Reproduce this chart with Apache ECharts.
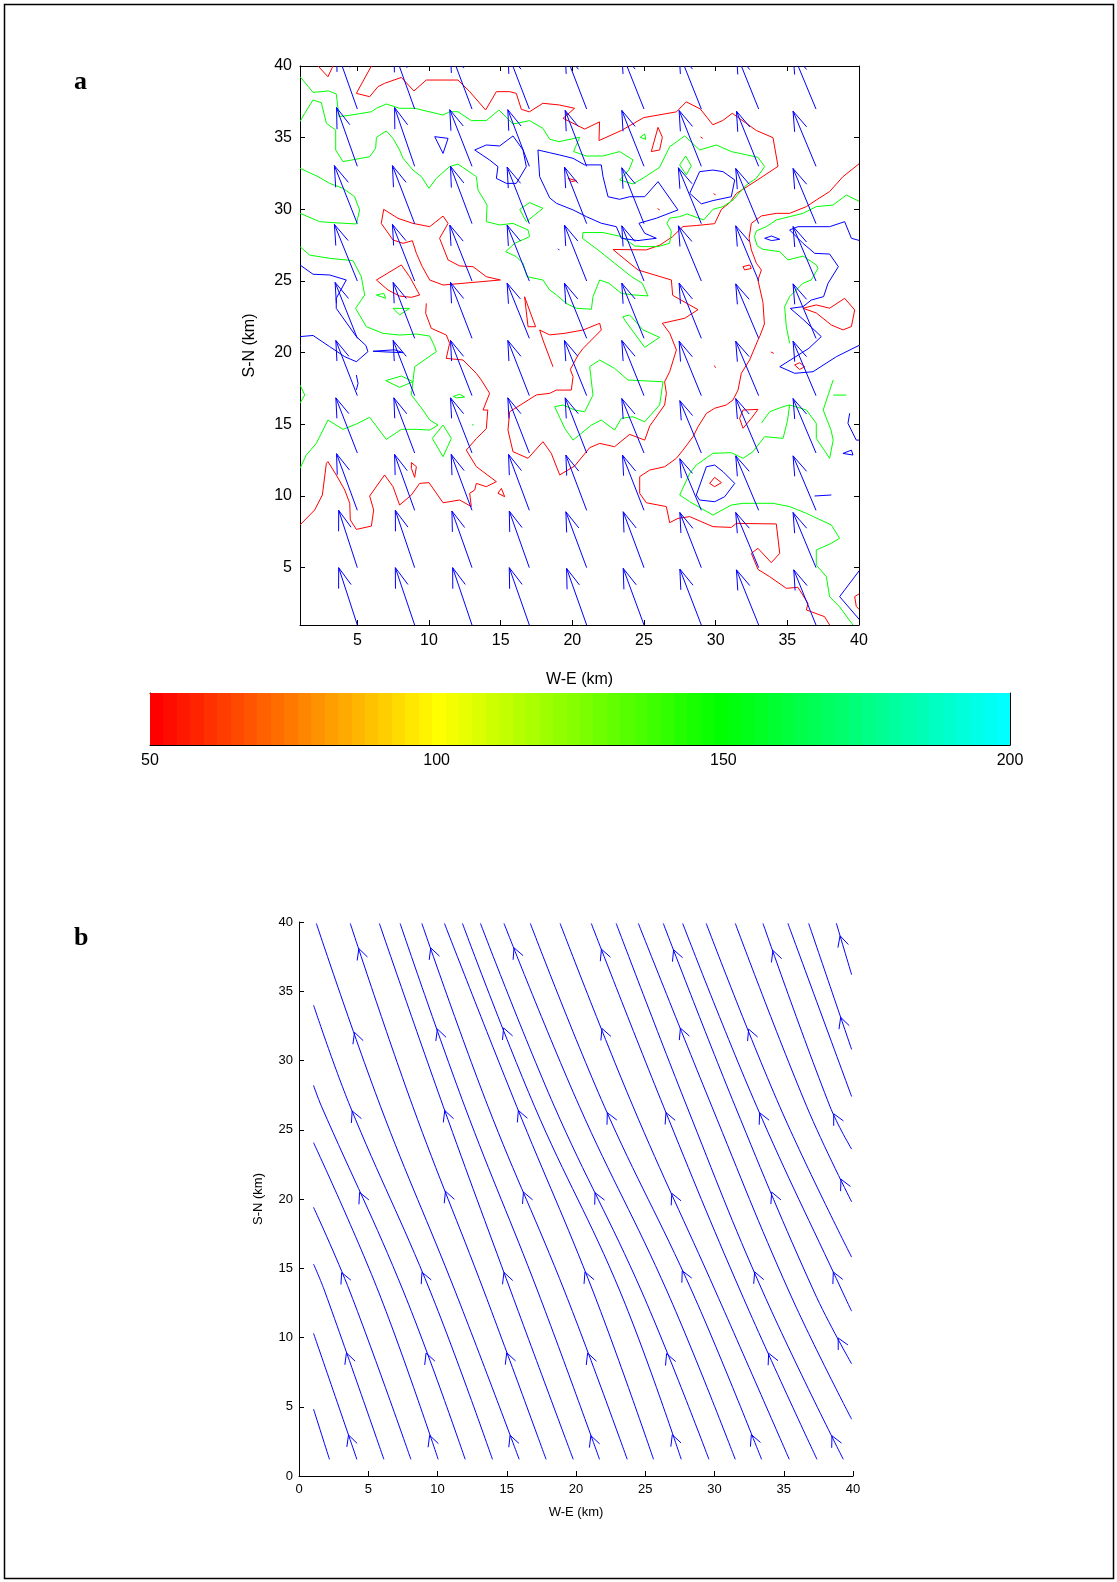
<!DOCTYPE html>
<html><head><meta charset="utf-8">
<script src="https://cdn.jsdelivr.net/npm/echarts@6/dist/echarts.min.js"></script>
<style>html,body{margin:0;padding:0;background:#fff;}#c{width:1117px;height:1582px;}</style>
</head><body><div id="c"></div>
<script>
// ---------------- Panel a : quiver grid ----------------
const quiverX = [1,5,9,13,17,21,25,29,33,37];
const quiverY = [1,5,9,13,17,21,25,29,33,37];
const quiverU = [
 [-1.30,-1.30,-1.35,-1.35,-1.40,-1.40,-1.45,-1.50,-1.55,-1.55],
 [-1.30,-1.30,-1.35,-1.40,-1.40,-1.45,-1.45,-1.50,-1.60,-1.60],
 [-1.40,-1.45,-1.40,-1.45,-1.45,-1.45,-1.50,-1.50,-1.60,-1.60],
 [-1.50,-1.50,-1.45,-1.50,-1.50,-1.50,-1.55,-1.50,-1.60,-1.60],
 [-1.50,-1.50,-1.50,-1.50,-1.50,-1.55,-1.55,-1.55,-1.60,-1.60],
 [-1.55,-1.55,-1.50,-1.50,-1.55,-1.55,-1.55,-1.55,-1.60,-1.60],
 [-1.60,-1.60,-1.55,-1.55,-1.55,-1.55,-1.55,-1.60,-1.60,-1.60],
 [-1.60,-1.60,-1.55,-1.50,-1.55,-1.55,-1.55,-1.60,-1.60,-1.60],
 [-1.50,-1.45,-1.40,-1.55,-1.50,-1.50,-1.55,-1.55,-1.55,-1.60],
 [-1.50,-1.45,-1.45,-1.50,-1.50,-1.50,-1.55,-1.55,-1.55,-1.60]
];
const quiverV = [
 [4.00,4.00,4.00,4.00,4.00,3.95,3.95,3.90,3.85,3.85],
 [4.00,4.00,4.00,3.95,3.95,3.90,3.90,3.85,3.85,3.85],
 [3.95,3.95,3.90,3.90,3.90,3.85,3.85,3.60,3.80,3.80],
 [3.85,3.85,3.85,3.85,3.85,3.85,3.80,3.65,3.80,3.80],
 [3.85,3.85,3.85,3.85,3.85,3.85,3.85,3.80,3.80,3.80],
 [3.90,3.90,3.90,3.90,3.85,3.85,3.85,3.85,3.80,3.80],
 [3.95,3.95,3.95,3.90,3.90,3.90,3.85,3.85,3.85,3.80],
 [4.05,4.05,4.05,4.00,3.95,3.95,3.90,3.90,3.85,3.85],
 [4.10,4.10,4.10,3.95,3.95,3.90,3.90,3.90,3.85,3.85],
 [4.10,4.10,4.05,4.00,3.90,3.90,3.90,3.90,3.85,3.85]
];

// ---------------- Panel a : contour lines, [W-E km, S-N km] ----------------
const contourRed = [
 [[2.26,40],[2.95,39.25],[3.3,40]],
 [[5.98,40],[4.93,38.09],[5.86,37.86],[6.44,38.56],[6.9,38.79],[8.07,39.2],[8.95,38.26],[9.81,39.02],[12.02,39.02],[12.84,38.21],[13.95,36.93],[14.7,38.21],[15.63,38.21],[16.09,38.09],[16.44,36.98],[17.0,36.8],[17.95,37.4],[19.1,37.28],[20.16,37.05],[19.35,36.35],[20.86,35.6],[21.9,36.1],[21.86,34.8],[23.42,35.5],[24.98,36.4],[27.26,36.8],[27.95,37.5],[28.93,37.0],[29.8,35.9],[30.5,36.2],[31.16,36.7],[32.84,35.5],[34.0,35.0],[34.35,33.0],[33.3,32.3],[31.44,31.1],[30.98,30.47],[30.4,30.0],[29.93,29.0],[28.65,28.87],[27.72,28.8],[27.0,28.1],[26.1,27.5],[25.16,27.17],[22.84,27.2],[23.19,26.9],[24.58,25.77],[26.91,25.07],[27.0,24.0],[28.77,23.0],[27.84,22.4],[26.28,22.05],[26.8,21.35],[27.26,20.19],[26.79,18.67],[26.44,17.97],[26.56,17.16],[26.44,16.35],[25.4,14.88],[25.05,13.9],[24.0,14.3],[22.95,13.44],[21.91,13.67],[21.21,13.37],[20.16,12.09],[19.12,11.47],[18.53,12.98],[17.95,13.79],[16.91,12.63],[15.86,13.09],[15.51,14.6],[15.63,15.88],[17.49,17.05],[18.42,17.16],[18.88,17.39],[19.93,17.39],[20.05,18.32],[19.86,18.83],[20.4,19.83],[20.75,20.3],[21.33,20.88],[22.02,21.58],[21.91,22.05],[20.75,21.58],[19.47,21.35],[18.42,21.24],[17.72,21.58],[17.95,20.88],[18.65,19.02]],
 [[1,7.98],[2.02,9.02],[2.56,10.07],[2.84,12.28],[2.95,12.4],[3.53,11.47],[4.12,10.42],[4.47,9.49],[4.51,8.33],[4.93,7.67],[5.98,7.9],[6.14,9.02],[5.86,10.0],[6.9,11.47],[7.49,10.65],[7.95,9.37],[8.77,10.07],[9.35,10.88],[10.0,10.93],[10.98,9.53],[12.14,9.72],[12.95,9.26],[12.84,10.19],[13.19,10.42],[13.3,10.88],[14.0,10.65],[14.7,11.0],[13.3,12.05],[12.6,13.2],[13.3,14.0],[14.0,14.7],[14.1,16.0],[13.77,16.0],[14.23,17.16],[13.65,18.09],[13.3,18.56],[12.37,19.49],[11.2,19.6],[11.44,20.65],[11.21,21.23],[10.16,21.7],[9.77,22.74],[9.81,23.44]],
 [[6.84,30.0],[7.84,29.37],[8.88,29.02],[10.05,28.79],[10.98,29.53],[11.33,29.02],[10.74,27.98],[11.33,26.47],[12.14,26.05],[13.07,26.0],[14.0,25.3],[14.98,25.07],[12.37,24.84],[10.98,24.72],[10.05,25.07],[9.53,26.0],[9.12,26.93],[8.84,27.81],[8.19,27.63],[7.49,27.86],[6.67,29.02],[6.84,30.0]],
 [[6.33,25.07],[8.07,26.12],[8.65,25.3],[9.35,24.02],[8.77,23.86],[7.95,23.95],[7.14,24.37],[6.33,25.07]],
 [[16.67,23.9],[17.26,22.28],[17.44,21.81],[16.91,21.81],[16.67,23.9]],
 [[8.77,12.33],[9.12,12.05],[9.0,11.3],[8.77,11.93],[8.77,12.33]],
 [[14.81,10.19],[15.05,10.53],[15.28,9.95],[14.81,10.19]],
 [[40.05,33.21],[38.88,32.28],[37.95,31.24],[37.02,30.65],[36.33,30.19],[35.16,29.72],[34.23,29.72],[33.19,29.54],[32.49,29.02],[32.33,27.98],[32.49,27.17],[32.84,26.24],[33.19,25.77],[32.95,25.07],[33.3,23.5],[33.4,22.0],[33.1,21.2],[32.95,20.88],[32.37,19.49],[31.79,18.56],[31.56,17.39],[31.21,16.7],[30.74,16.35],[29.93,16.12],[29.35,15.76],[28.77,14.83],[28.42,14.14],[27.72,13.2],[27.26,12.63],[26.44,12.04],[25.4,11.81],[24.7,11.35],[24.7,10.18],[25.16,9.53],[26.56,9.26],[26.79,8.14],[27.37,8.44],[28.19,8.56],[29.81,7.86],[31.09,7.81],[31.44,8.09],[34.23,8.05],[34.47,6.0],[33.88,5.35],[32.95,6.35],[32.49,6.0],[32.95,4.88],[33.77,4.37],[34.93,3.56],[35.74,3.63],[36.44,2.51],[36.33,2.05],[37.6,1.58],[37.95,1.0]],
 [[31.67,15.42],[31.91,16.0],[32.95,16.04],[32.49,15.42],[31.91,14.72],[31.67,15.42]],
 [[29.58,10.88],[29.93,11.3],[30.4,10.93],[29.93,10.65],[29.58,10.88]],
 [[35.51,19.14],[35.86,19.3],[36.21,19.02],[35.86,18.83],[35.51,19.14]],
 [[31.91,26.0],[32.37,26.12],[32.49,25.88],[32.02,25.77],[31.91,26.0]],
 [[19.7,32.16],[20.28,32.0],[19.93,31.93],[19.7,32.16]],
 [[25.51,34.03],[25.98,35.72],[26.28,35.03],[26.09,34.14],[25.51,34.03]],
 [[36.09,23.1],[37.02,23.33],[37.95,23.1],[39.0,23.79],[39.7,22.98],[39.47,21.82],[38.88,21.59],[38.07,21.93],[37.02,22.77],[36.09,23.1]],
 [[40.05,3.2],[39.7,2.98],[39.81,2.3],[40.05,2.05]],
 [[28.95,35.05],[29.1,34.95]],
 [[29.85,31.1],[30.0,31.0]],
 [[25.95,30.05],[26.1,29.95]],
 [[33.85,20.05],[34.05,19.95]],
 [[29.9,19.1],[30.0,18.95]]
];
const contourGreen = [
 [[1,39.26],[1.91,38.16],[3.0,38.26],[3.53,38.05],[3.72,36.47],[4.47,36.56],[5.98,36.81],[6.33,37.05],[7.02,37.35],[7.95,37.05],[9.0,37.05],[10.98,36.58],[11.44,36.81],[12.02,36.81],[12.95,36.19],[14.0,36.19],[14.88,36.93],[15.86,35.95],[17.02,36.19],[17.95,35.65],[18.42,34.89],[19.07,34.72],[20.51,35.03],[20.09,34.03],[20.98,33.72],[22.14,33.72],[23.3,34.03],[24.23,33.45],[23.95,32.75],[23.3,32.05],[24.23,31.77],[24.93,32.17],[26.09,32.93],[26.79,34.37],[27.84,35.12],[28.88,34.14],[30.05,34.49],[31.09,34.03],[32.95,33.63],[33.42,32.98],[32.84,32.17],[32.14,31.7],[31.21,30.65],[30.51,30.19],[29.81,30.0],[29.16,29.26],[28.0,29.68],[27.49,29.49],[26.79,29.38],[26.6,29.03],[26.91,28.45],[26.79,27.63],[25.98,27.4],[24.93,27.4],[24.35,27.45],[23.42,28.1],[22.14,28.38],[20.74,28.38],[20.7,27.98],[21.79,27.17],[22.95,26.24],[24.12,25.31],[24.88,24.84],[25.28,23.96],[24.23,24.03],[23.42,24.14],[22.56,24.84],[21.91,25.07],[21.44,23.91],[21.33,23.03],[20.28,23.1],[19.63,23.4],[18.89,24.03],[18.42,24.37],[17.95,25.07],[16.84,25.3],[16.56,26.23],[16.09,26.7],[15.35,27.05],[15.98,27.63],[17.02,28.09],[16.91,28.56],[15.86,29.02],[14.93,28.91],[14.0,29.14],[14.05,30.3],[13.42,31.35],[13.3,32.28],[12.02,33.16],[11.44,32.98],[10.51,32.16],[10.0,31.47],[9.47,32.28],[8.88,32.74],[8.19,33.56],[7.95,34.14],[7.49,34.95],[7.02,35.47],[6.33,35.02],[6.28,34.26],[5.86,33.67],[4.0,33.33],[3.49,34.14],[3.49,35.53],[2.84,36.0],[2.49,37.44],[1.91,37.63],[1.33,36.7],[1,36.12]],
 [[1,32.86],[2.26,32.28],[3.07,31.81],[4.0,31.47],[4.81,30.88],[5.16,29.95],[4.93,28.98],[3.3,29.07],[2.37,29.14],[1,29.72]],
 [[16.33,30.0],[17.02,30.47],[17.95,30.07],[16.79,29.14],[16.33,30.0]],
 [[6.33,24.02],[6.98,23.79],[6.84,24.14],[6.33,24.02]],
 [[7.49,23.09],[8.65,23.09],[7.95,22.63],[7.49,23.09]],
 [[1,27.4],[1.67,26.81],[3.07,26.58],[4.7,26.42],[5.28,25.3],[5.51,24.02],[4.88,23.09],[5.63,21.81],[6.79,21.35],[7.95,21.23],[9.12,21.3],[10.05,21.16],[10.4,20.42],[10.51,20.07],[9.0,19.02],[8.77,17.05],[9.58,16.0],[10.05,15.3],[10.63,14.95],[10.05,14.6],[9.12,14.65],[8.07,14.65],[7.02,13.95],[5.86,15.49],[4.93,15.02],[4.0,14.65],[2.95,15.3],[2.14,13.67],[1.44,12.86],[1,11.93]],
 [[6.98,18.05],[8.07,18.37],[8.88,17.98],[7.95,17.58],[6.98,18.05]],
 [[11.7,16.95],[12.14,17.1],[12.49,16.9],[11.9,16.85],[11.7,16.95]],
 [[13.0,14.95],[13.12,14.98]],
 [[10.23,14.02],[10.98,14.95],[11.56,14.02],[10.98,12.74],[10.23,14.02]],
 [[1,17.74],[1.33,17.05],[1,16.47]],
 [[18.77,16.23],[19.35,16.35],[20.16,16.0],[20.86,15.88],[21.44,17.04],[21.21,19.02],[21.91,19.49],[22.95,18.9],[23.88,18.09],[26.33,17.97],[26.09,16.35],[25.05,15.18],[24.23,15.53],[23.42,15.42],[22.95,14.6],[22.02,15.3],[21.33,14.95],[20.05,13.9],[19.47,14.72],[18.77,16.23]],
 [[27.49,33.1],[27.91,33.72],[28.3,33.03],[27.95,32.4],[27.49,33.1]],
 [[24.74,35.03],[25.05,35.26],[25.12,34.88],[24.74,35.03]],
 [[40.05,30.54],[39.12,31.0],[38.19,30.3],[37.02,30.19],[36.09,29.72],[35.16,29.49],[34.23,29.26],[33.53,28.79],[32.85,28.5],[32.7,28.1],[32.9,27.45],[33.3,27.21],[34.47,27.05],[35.05,26.47],[36.09,26.74],[37.02,26.12],[37.14,25.88],[36.67,25.07],[36.09,24.84],[35.16,23.91],[34.81,23.21],[34.93,21.81],[35.16,20.65]],
 [[23.53,22.51],[24.0,22.63],[24.93,21.59],[26.09,21.07],[25.05,20.37],[23.65,22.28],[23.53,22.51]],
 [[34.7,14.02],[33.42,14.14],[32.6,13.09],[31.91,12.63],[31.09,13.02],[29.81,12.98],[28.65,12.16],[28.19,11.58],[27.49,10.07],[28.19,9.6],[29.81,8.67],[31.09,9.37],[31.91,9.49],[34.0,9.49],[35.16,9.26],[36.33,8.79],[38.07,7.98],[38.65,7.05],[38.07,6.7],[37.02,6.23],[37.02,5.19],[37.72,4.37],[37.95,2.98],[38.65,2.26],[39.58,1.0]],
 [[34.7,14.02],[35.0,15.2],[35.16,16.35],[34.7,16.23],[33.77,15.88],[33.2,15.1]],
 [[35.16,16.35],[36.33,16.0],[37.02,15.07],[37.02,14.02],[37.95,12.63],[38.2,13.9],[38.05,14.6],[37.5,16.0],[38.2,18.1]],
 [[38.2,17.04],[39.12,17.04]]
];
const contourBlue = [
 [[10.4,35.07],[11.33,34.95],[10.98,33.9],[10.4,35.07]],
 [[13.19,34.14],[14.0,34.49],[14.93,34.42],[15.86,35.12],[16.56,34.14],[16.79,32.98],[16.09,31.81],[15.4,31.81],[14.7,32.16],[14.81,32.98],[14.23,33.44],[13.19,34.14]],
 [[17.6,34.14],[18.42,33.95],[19.12,33.79],[20.05,33.56],[20.86,33.1],[22.02,33.1],[22.14,32.28],[22.49,30.88],[23.3,30.7],[24.0,30.88],[25.05,30.88],[25.98,31.93],[27.37,29.96],[25.86,29.38],[24.65,29.03],[25.05,28.33],[25.86,27.98],[24.58,27.82],[23.42,27.98],[23.07,28.79],[22.02,29.03],[20.98,29.49],[20.05,29.96],[18.89,30.42],[18.42,30.8],[17.72,32.28],[17.6,34.14]],
 [[28.19,31.12],[28.88,32.63],[29.81,32.74],[30.51,32.63],[31.33,32.05],[31.09,30.88],[29.81,30.61],[29.0,30.38],[28.19,31.12]],
 [[33.42,27.98],[33.9,28.14],[34.47,27.91],[33.9,27.82],[33.42,27.98]],
 [[40.05,27.82],[39.47,27.98],[39.0,29.14],[37.95,28.79],[35.74,28.79],[35.16,28.56],[36.09,27.63],[36.91,26.93],[37.95,26.88],[38.56,26.0],[37.84,24.84],[37.53,23.91],[36.67,23.67],[36.09,23.21],[35.21,23.09],[36.09,22.33],[37.37,21.12],[36.5,20.3],[34.47,19.02],[35.51,18.56],[36.79,18.67],[38.42,19.72],[40.05,20.53]],
 [[1,26.12],[1.91,25.47],[3.07,25.42],[4.23,25.07],[3.53,23.79],[3.53,23.09],[4.93,21.12],[5.6,20.5],[5.74,20.07],[4.93,19.37],[4.12,19.72],[3.07,20.42],[1.91,21.2],[1,21.12]],
 [[6.1,20.1],[7.0,20.05],[8.2,20.0],[7.6,20.2],[6.1,20.1]],
 [[4.93,18.44],[5.05,17.86],[4.93,17.4]],
 [[28.88,9.72],[28.65,10.07],[29.35,12.04],[29.93,12.16],[30.51,11.7],[31.33,10.88],[30.63,9.95],[29.93,9.6],[28.88,9.72]],
 [[39.35,15.77],[39.23,15.07],[39.81,13.9],[40.05,13.9]],
 [[38.88,12.97],[39.47,13.2],[39.58,12.86],[38.88,12.97]],
 [[36.9,10.0],[38.07,10.07]],
 [[40.05,4.83],[38.65,2.98],[40.05,1.35]],
 [[19.0,27.25],[19.1,27.15]]
];

// ---------------- Colour bar ----------------
const colorbarTicks = [50,100,150,200];
const colorbarAnchors = [[50,'#ff0000'],[100,'#ffff00'],[150,'#00ff00'],[200,'#00ffff']];
const colorbarLevels = 64;

// ---------------- Panel b : streamlines ----------------
const streamlines = [
 [[2.2,1.2],[1.05,4.83]],
 [[4.18,1.2],[1.05,10.3]],
 [[6.13,1.2],[1.88,13.28],[1.05,15.3]],
 [[8.08,1.2],[3.69,13.28],[1.05,19.4]],
 [[10.05,1.2],[5.75,13.28],[1.05,24.07]],
 [[12.0,1.2],[7.56,13.28],[1.62,26.7],[1.05,28.2]],
 [[13.97,1.2],[9.5,13.28],[3.69,26.7],[1.05,34.0]],
 [[15.9,1.2],[11.3,13.28],[5.88,26.7],[1.25,39.9]],
 [[17.84,1.2],[13.38,13.28],[8.21,26.7],[3.7,39.9]],
 [[19.8,1.2],[15.32,13.28],[10.41,26.7],[5.8,39.9]],
 [[21.7,1.2],[17.26,13.28],[11.96,26.7],[7.3,39.9]],
 [[23.7,1.2],[19.2,13.28],[13.64,26.7],[8.87,39.9]],
 [[25.6,1.2],[21.25,13.28],[15.71,26.7],[10.5,39.9]],
 [[27.6,1.2],[23.2,13.28],[17.0,26.7],[11.8,39.9]],
 [[29.6,1.2],[24.76,13.28],[18.43,26.7],[13.1,39.9]],
 [[31.5,1.2],[26.6,13.28],[20.24,26.7],[14.8,39.9]],
 [[33.4,1.2],[28.4,13.28],[22.04,26.7],[16.7,39.9]],
 [[35.4,1.2],[30.1,13.28],[24.11,26.7],[18.85,39.9]],
 [[37.4,1.2],[31.9,13.28],[26.31,26.7],[21.1,39.9]],
 [[39.3,1.2],[33.5,13.28],[28.0,26.7],[22.9,39.9]],
 [[39.9,4.1],[35.4,13.28],[29.8,26.7],[24.5,39.9]],
 [[39.9,8.1],[37.2,13.28],[31.49,26.7],[26.3,39.9]],
 [[39.9,11.9],[39.25,13.28],[33.04,26.7],[27.7,39.9]],
 [[39.9,15.8],[34.7,26.7],[29.4,39.9]],
 [[39.9,19.8],[36.65,26.7],[31.5,39.9]],
 [[39.9,23.6],[38.33,26.7],[33.5,39.9]],
 [[39.9,27.4],[35.3,39.9]],
 [[39.9,30.8],[36.8,39.9]],
 [[39.9,36.2],[38.8,39.9]]
];
const streamArrows = [
 [3.58,2.96],[9.5,2.96],[15.3,2.96],[21.2,2.96],[26.9,2.96],[32.6,2.96],[38.6,2.96],
 [3.46,8.9],[9.23,8.9],[15.0,8.9],[20.9,8.9],[26.7,8.9],[33.99,8.9],[38.8,9.9],
 [3.2,14.74],[8.94,14.74],[14.9,14.74],[20.66,14.74],[27.5,14.74],[32.9,14.74],[38.6,14.74],
 [4.42,20.5],[10.43,20.5],[16.2,20.5],[21.26,20.4],[26.9,20.4],[33.9,20.4],[39.06,21.4],
 [3.94,26.4],[10.55,26.4],[15.85,26.4],[22.2,26.2],[26.4,26.2],[33.2,26.2],[38.7,26.2],
 [4.77,32.3],[10.07,32.3],[14.65,32.3],[21.6,32.2],[27.2,32.2],[32.3,32.2],[39.06,33.1],
 [4.3,38.07],[9.35,38.07],[15.37,38.07],[21.5,37.9],[26.8,37.9],[34.1,37.9],[39.06,39.0]
];
const ticksA = [5,10,15,20,25,30,35,40];

// ================= rendering =================
const FONT = "'Liberation Sans', Arial, sans-serif";
const BLUE = '#0000ff';
const chart = echarts.init(document.getElementById('c'), null, {renderer:'canvas', width:1117, height:1582});

function polyRender(lines, color, smooth){
  return function(params, api){
    const pts = lines[params.dataIndex].map(p => api.coord(p));
    return {type:'polyline', silent:true, shape:{points:pts, smooth:smooth || 0}, style:{stroke:color, lineWidth:1, fill:null}};
  };
}
function contourSeries(lines, color){
  return {type:'custom', xAxisIndex:0, yAxisIndex:0, clip:true, silent:true, animation:false,
    data: lines.map(l => l[0]), renderItem: polyRender(lines, color), z:3};
}

const quiverData = [];
quiverY.forEach((y, r) => quiverX.forEach((x, c) => quiverData.push([x, y, quiverU[r][c], quiverV[r][c]])));

function quiverRender(params, api){
  const x = api.value(0), y = api.value(1), u = api.value(2), v = api.value(3);
  const a = 0.33, b = 0.33;
  const tail = api.coord([x, y]);
  const tip = api.coord([x + u, y + v]);
  const h1 = api.coord([x + u - a*(u + b*v), y + v - a*(v - b*u)]);
  const h2 = api.coord([x + u - a*(u - b*v), y + v - a*(v + b*u)]);
  return {type:'group', silent:true, children:[
    {type:'polyline', shape:{points:[tail, tip]}, style:{stroke:BLUE, lineWidth:1, fill:null}},
    {type:'polyline', shape:{points:[h1, tip, h2]}, style:{stroke:BLUE, lineWidth:1, fill:null}}
  ]};
}

function cmap(val){
  for (let i = 0; i < colorbarAnchors.length - 1; i++){
    const [v0, c0] = colorbarAnchors[i], [v1, c1] = colorbarAnchors[i+1];
    if (val <= v1 || i === colorbarAnchors.length - 2){
      const t = Math.max(0, Math.min(1, (val - v0) / (v1 - v0)));
      const p = s => [parseInt(s.substr(1,2),16), parseInt(s.substr(3,2),16), parseInt(s.substr(5,2),16)];
      const A = p(c0), B = p(c1);
      return 'rgb(' + A.map((q, k) => Math.round(q + (B[k] - q) * t)).join(',') + ')';
    }
  }
}
const cbMin = colorbarTicks[0], cbMax = colorbarTicks[colorbarTicks.length-1];
const cbStops = [];
for (let k = 0; k < colorbarLevels; k++){
  const col = cmap(cbMin + (k / (colorbarLevels - 1)) * (cbMax - cbMin));
  cbStops.push({offset:k/colorbarLevels, color:col}, {offset:(k+1)/colorbarLevels, color:col});
}
function cbRender(params, api){
  const p0 = api.coord([api.value(0), 1]), p1 = api.coord([api.value(1), 0]);
  return {type:'rect', silent:true, shape:{x:p0[0], y:p0[1], width:p1[0]-p0[0], height:p1[1]-p0[1]},
    style:{fill:{type:'linear', x:0, y:0, x2:1, y2:0, colorStops:cbStops}}};
}

function nearestSeg(pt){
  let best = null;
  streamlines.forEach(line => {
    for (let i = 0; i < line.length - 1; i++){
      const A = line[i], B = line[i+1];
      const dx = B[0]-A[0], dy = B[1]-A[1];
      let t = ((pt[0]-A[0])*dx + (pt[1]-A[1])*dy) / (dx*dx + dy*dy);
      t = Math.max(0, Math.min(1, t));
      const q = [A[0] + t*dx, A[1] + t*dy];
      const d = Math.hypot(q[0]-pt[0], q[1]-pt[1]);
      if (!best || d < best.d) best = {d, q, dir:[dx, dy]};
    }
  });
  return best;
}
const arrowData = streamArrows.map(p => { const s = nearestSeg(p); return [s.q[0], s.q[1], s.dir[0], s.dir[1]]; });
function streamArrowRender(params, api){
  const P = [api.value(0), api.value(1)];
  const tip = api.coord(P);
  const ahead = api.coord([P[0] + api.value(2)*0.01, P[1] + api.value(3)*0.01]);
  let dx = ahead[0]-tip[0], dy = ahead[1]-tip[1];
  const n = Math.hypot(dx, dy); dx /= n; dy /= n;
  const L = 12, th = 27 * Math.PI / 180;
  const bx = -dx, by = -dy;
  const r = (ang) => [tip[0] + L*(bx*Math.cos(ang) - by*Math.sin(ang)), tip[1] + L*(bx*Math.sin(ang) + by*Math.cos(ang))];
  return {type:'polyline', silent:true, shape:{points:[r(th), tip, r(-th)]}, style:{stroke:BLUE, lineWidth:1, fill:null}};
}

const axisLineBlack = {show:true, onZero:false, lineStyle:{color:'#000', width:1}};
const labA = {fontSize:16, color:'#000', fontFamily:FONT};
const labB = {fontSize:13, color:'#000', fontFamily:FONT};

const option = {
  animation:false,
  backgroundColor:'#fff',
  grid:[
    {left:300, top:66, width:559, height:559},
    {left:150, top:693, width:860, height:52},
    {left:299, top:922, width:554, height:554}
  ],
  xAxis:[
    {gridIndex:0, type:'value', min:1, max:40, position:'bottom', axisLine:axisLineBlack,
     axisTick:{show:true, inside:true, length:5, customValues:ticksA, lineStyle:{color:'#000'}},
     axisLabel:{...labA, margin:8, customValues:ticksA}, splitLine:{show:false},
     name:'W-E (km)', nameLocation:'middle', nameGap:47, nameTextStyle:{...labA}},
    {gridIndex:0, type:'value', min:1, max:40, position:'top', axisLine:axisLineBlack,
     axisTick:{show:true, inside:true, length:5, customValues:ticksA, lineStyle:{color:'#000'}},
     axisLabel:{show:false}, splitLine:{show:false}},
    {gridIndex:1, type:'value', min:cbMin, max:cbMax, position:'bottom', axisLine:axisLineBlack,
     axisTick:{show:true, inside:true, length:7, customValues:[100,150], lineStyle:{color:'#000'}},
     axisLabel:{...labA, margin:8, customValues:colorbarTicks}, splitLine:{show:false}},
    {gridIndex:1, type:'value', min:cbMin, max:cbMax, position:'top', axisLine:axisLineBlack,
     axisTick:{show:true, inside:true, length:7, customValues:[100,150], lineStyle:{color:'#000'}},
     axisLabel:{show:false}, splitLine:{show:false}},
    {gridIndex:2, type:'value', min:0, max:40, interval:5, position:'bottom', axisLine:axisLineBlack,
     axisTick:{show:true, inside:true, length:5, lineStyle:{color:'#000'}},
     axisLabel:{...labB, margin:7}, splitLine:{show:false},
     name:'W-E (km)', nameLocation:'middle', nameGap:30, nameTextStyle:{...labB}}
  ],
  yAxis:[
    {gridIndex:0, type:'value', min:1, max:40, position:'left', axisLine:axisLineBlack,
     axisTick:{show:true, inside:true, length:5, customValues:ticksA, lineStyle:{color:'#000'}},
     axisLabel:{...labA, margin:8, customValues:ticksA}, splitLine:{show:false},
     name:'S-N (km)', nameLocation:'middle', nameGap:42, nameRotate:90, nameTextStyle:{...labA}},
    {gridIndex:0, type:'value', min:1, max:40, position:'right', axisLine:axisLineBlack,
     axisTick:{show:true, inside:true, length:5, customValues:ticksA, lineStyle:{color:'#000'}},
     axisLabel:{show:false}, splitLine:{show:false}},
    {gridIndex:1, type:'value', min:0, max:1, position:'left', axisLine:axisLineBlack,
     axisTick:{show:false}, axisLabel:{show:false}, splitLine:{show:false}},
    {gridIndex:1, type:'value', min:0, max:1, position:'right', axisLine:axisLineBlack,
     axisTick:{show:false}, axisLabel:{show:false}, splitLine:{show:false}},
    {gridIndex:2, type:'value', min:0, max:40, interval:5, position:'left', axisLine:axisLineBlack,
     axisTick:{show:true, inside:true, length:5, lineStyle:{color:'#000'}},
     axisLabel:{...labB, margin:6}, splitLine:{show:false},
     name:'S-N (km)', nameLocation:'middle', nameGap:34, nameRotate:90, nameTextStyle:{...labB}}
  ],
  series:[
    contourSeries(contourRed, '#ff0000'),
    contourSeries(contourGreen, '#00ff00'),
    contourSeries(contourBlue, BLUE),
    {type:'custom', xAxisIndex:0, yAxisIndex:0, clip:true, silent:true, data:quiverData, renderItem:quiverRender, z:4},
    {type:'custom', xAxisIndex:2, yAxisIndex:2, clip:false, silent:true, data:[[cbMin, cbMax]], renderItem:cbRender, z:1},
    {type:'custom', xAxisIndex:4, yAxisIndex:4, clip:true, silent:true, data:streamlines.map(l => l[0]), renderItem:polyRender(streamlines, BLUE, 0.4)},
    {type:'custom', xAxisIndex:4, yAxisIndex:4, clip:true, silent:true, data:arrowData, renderItem:streamArrowRender}
  ],
  graphic:[
    {type:'rect', silent:true, shape:{x:4.5, y:4.5, width:1109, height:1574}, style:{fill:null, stroke:'#000', lineWidth:1.5}},
    {type:'text', silent:true, left:74, top:69, style:{text:'a', font:"bold 26px 'Liberation Serif', 'Times New Roman', serif", fill:'#000'}},
    {type:'text', silent:true, left:74, top:925, style:{text:'b', font:"bold 26px 'Liberation Serif', 'Times New Roman', serif", fill:'#000'}}
  ]
};
chart.setOption(option);
</script></body></html>
